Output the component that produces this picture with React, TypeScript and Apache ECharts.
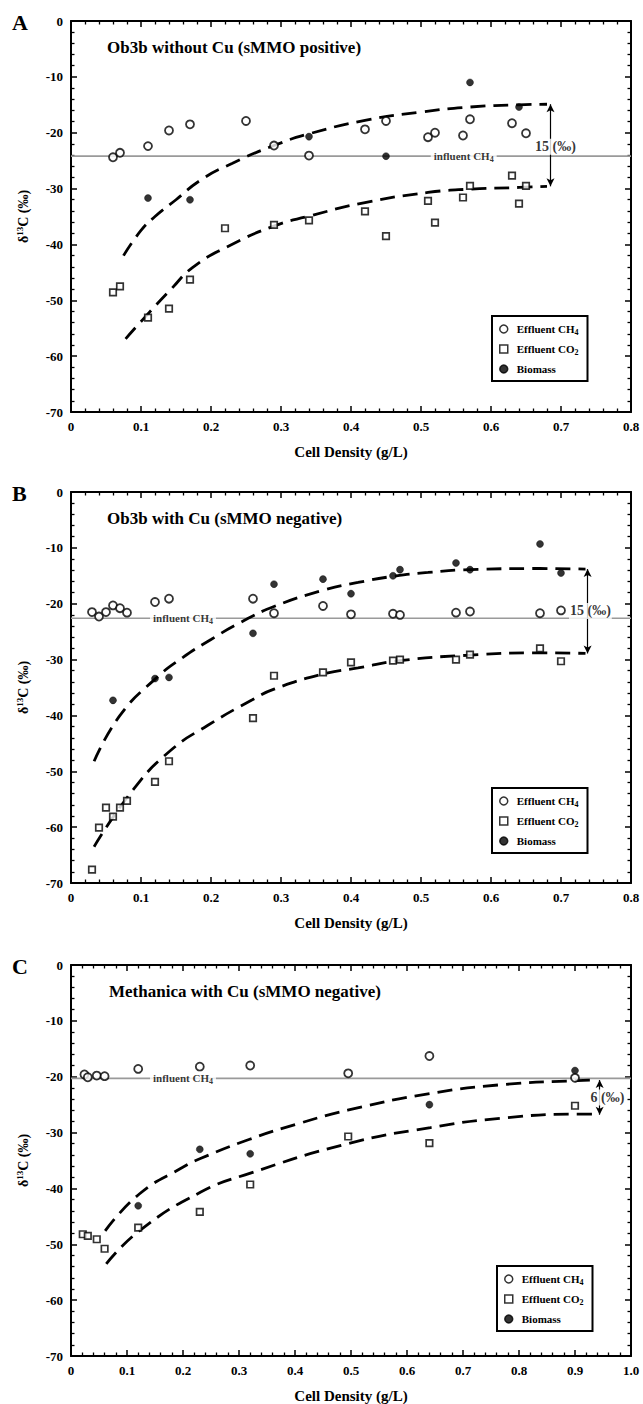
import React, { useEffect, useRef } from "react";
import * as echarts from "echarts";

const FONT = '"Liberation Serif", "Times New Roman", serif';

// ---------- Data ----------
const panelLetters = ["A", "B", "C"];
const panelTitles = [
  "Ob3b without Cu (sMMO positive)",
  "Ob3b with Cu (sMMO negative)",
  "Methanica with Cu (sMMO negative)",
];
const xMaxes = [0.8, 0.8, 1.0];
const seriesNames = ["Effluent CH4", "Effluent CO2", "Biomass"];

// Panel A
const aCH4 = [[0.06, -24.4], [0.07, -23.6], [0.11, -22.4], [0.14, -19.6], [0.17, -18.5], [0.25, -17.9], [0.29, -22.3], [0.34, -24.1], [0.42, -19.4], [0.45, -17.9], [0.51, -20.8], [0.52, -20.0], [0.56, -20.5], [0.57, -17.6], [0.63, -18.3], [0.65, -20.1]];
const aCO2 = [[0.06, -48.6], [0.07, -47.5], [0.11, -53.1], [0.14, -51.5], [0.17, -46.3], [0.22, -37.1], [0.29, -36.5], [0.34, -35.7], [0.42, -34.1], [0.45, -38.5], [0.51, -32.2], [0.52, -36.1], [0.56, -31.6], [0.57, -29.5], [0.63, -27.7], [0.64, -32.7], [0.65, -29.5]];
const aBio = [[0.11, -31.7], [0.17, -32.0], [0.34, -20.7], [0.45, -24.2], [0.57, -11.0], [0.64, -15.4]];
const aFitUp = [[0.075, -42], [0.1, -37.5], [0.12, -35], [0.15, -32], [0.185, -28.5], [0.23, -25.5], [0.29, -22.3], [0.34, -20.2], [0.42, -17.8], [0.5, -16.3], [0.57, -15.4], [0.64, -15.0], [0.68, -14.9]];
const aFitLo = [[0.078, -56.9], [0.108, -52.7], [0.143, -48], [0.174, -44.1], [0.222, -40.5], [0.29, -36.7], [0.341, -34.9], [0.42, -32.5], [0.51, -30.7], [0.57, -30.1], [0.64, -29.8], [0.68, -29.6]];

// Panel B
const bCH4 = [[0.03, -21.5], [0.04, -22.3], [0.05, -21.5], [0.06, -20.3], [0.07, -20.8], [0.08, -21.6], [0.12, -19.7], [0.14, -19.1], [0.26, -19.1], [0.29, -21.7], [0.36, -20.4], [0.4, -21.9], [0.46, -21.8], [0.47, -22.0], [0.55, -21.6], [0.57, -21.4], [0.67, -21.7], [0.7, -21.2]];
const bCO2 = [[0.03, -67.6], [0.04, -60.1], [0.05, -56.5], [0.06, -58.1], [0.07, -56.5], [0.08, -55.3], [0.12, -51.9], [0.14, -48.2], [0.26, -40.5], [0.29, -32.9], [0.36, -32.3], [0.4, -30.5], [0.46, -30.2], [0.47, -30.0], [0.55, -30.0], [0.57, -29.1], [0.67, -28.0], [0.7, -30.3]];
const bBio = [[0.06, -37.3], [0.12, -33.4], [0.14, -33.2], [0.26, -25.3], [0.29, -16.5], [0.36, -15.6], [0.4, -18.2], [0.46, -15.0], [0.47, -13.9], [0.55, -12.7], [0.57, -13.9], [0.67, -9.3], [0.7, -14.5]];
const bFitUp = [[0.033, -48.2], [0.07, -40], [0.12, -33.5], [0.16, -29.6], [0.2, -26.4], [0.24, -23.5], [0.29, -20.5], [0.36, -17.6], [0.41, -16.2], [0.46, -15.1], [0.51, -14.4], [0.57, -13.9], [0.67, -13.7], [0.735, -13.8]];
const bFitLo = [[0.033, -63.5], [0.09, -53.1], [0.143, -46.2], [0.195, -41.8], [0.259, -37.2], [0.29, -35.3], [0.36, -32.6], [0.41, -31.5], [0.47, -30.2], [0.57, -29.2], [0.67, -28.8], [0.735, -28.9]];

// Panel C
const cCH4 = [[0.024, -19.6], [0.03, -20.1], [0.046, -19.8], [0.06, -19.9], [0.12, -18.6], [0.23, -18.2], [0.32, -18.0], [0.495, -19.4], [0.64, -16.3], [0.9, -20.2]];
const cCO2 = [[0.021, -48.2], [0.03, -48.5], [0.046, -49.1], [0.06, -50.8], [0.12, -47.0], [0.23, -44.2], [0.32, -39.3], [0.495, -30.7], [0.64, -31.9], [0.9, -25.2]];
const cBio = [[0.12, -43.1], [0.23, -33.0], [0.32, -33.8], [0.64, -25.0], [0.9, -18.9]];
const cFitUp = [[0.061, -47.6], [0.122, -41], [0.198, -36.3], [0.23, -34.7], [0.319, -31.2], [0.403, -28.5], [0.494, -26], [0.642, -23], [0.772, -21.4], [0.904, -20.7], [0.937, -20.6]];
const cFitLo = [[0.063, -53.5], [0.122, -47.6], [0.231, -40.7], [0.319, -37.3], [0.494, -32.0], [0.642, -29.1], [0.772, -27.4], [0.904, -26.7], [0.934, -26.7]];

// Annotations
const influentValues = [-24.2, -22.6, -20.3];
const influentLabelX = [0.561, 0.16, 0.2];
const arrowX = [0.685, 0.738, 0.944];
const arrowTop = [-14.9, -13.8, -20.6];
const arrowBottom = [-29.6, -28.9, -26.8];
const deltaLabels = ["15 (‰)", "15 (‰)", "6 (‰)"];
const deltaLabelPos = [[0.692, -22.5], [0.742, -21.3], [0.958, -23.7]];

const ch4Sets = [aCH4, bCH4, cCH4];
const co2Sets = [aCO2, bCO2, cCO2];
const bioSets = [aBio, bBio, cBio];
const fitUpSets = [aFitUp, bFitUp, cFitUp];
const fitLoSets = [aFitLo, bFitLo, cFitLo];

// ---------- Layout ----------
const gridTops = [21, 492, 965];
const gridLeft = 71;
const gridWidth = 560;
const gridHeight = 391;
const titleLefts = [107, 107, 109];
const legendLefts = [492, 492, 497];
const legendTopOffsets = [295, 296, 301];

const subRich = {
  s: { fontFamily: FONT, fontWeight: "bold", fontSize: 8, lineHeight: 7, verticalAlign: "bottom", color: "#000" },
};
const legendText: Record<string, string> = {
  "Effluent CH4": "Effluent CH{s|4}",
  "Effluent CO2": "Effluent CO{s|2}",
  Biomass: "Biomass",
};

function buildOption() {
  const axisLine = { show: true, onZero: false, lineStyle: { color: "#000", width: 2 } };
  const axisTick = { show: true, inside: true, length: 6, lineStyle: { color: "#000", width: 1.5 } };
  const minorTick = { show: true, splitNumber: 5, length: 3.5, lineStyle: { color: "#000", width: 1.3 } };
  const labelStyle = { fontFamily: FONT, fontWeight: "bold", fontSize: 13, color: "#000" };

  const xAxis: any[] = [];
  const yAxis: any[] = [];
  const series: any[] = [];
  const title: any[] = [];

  gridTops.forEach((t, i) => {
    const xBase = {
      type: "value", gridIndex: i, min: 0, max: xMaxes[i], interval: 0.1,
      axisLine, axisTick, minorTick, splitLine: { show: false }, minorSplitLine: { show: false },
    };
    xAxis.push({
      ...xBase, position: "bottom",
      axisLabel: { ...labelStyle, margin: 8, formatter: (v: number) => (v === 0 ? "0" : v.toFixed(1)) },
      name: "Cell Density (g/L)", nameLocation: "middle", nameGap: 32,
      nameTextStyle: { fontFamily: FONT, fontWeight: "bold", fontSize: 15, color: "#000" },
    });
    xAxis.push({ ...xBase, position: "top", axisLabel: { show: false } });

    const yBase = {
      type: "value", gridIndex: i, min: -70, max: 0, interval: 10,
      axisLine, axisTick, minorTick, splitLine: { show: false }, minorSplitLine: { show: false },
    };
    yAxis.push({
      ...yBase, position: "left",
      axisLabel: { ...labelStyle, margin: 8 },
      name: "δ{sup|13}C (‰)", nameLocation: "middle", nameGap: 39, nameRotate: 90,
      nameTextStyle: {
        fontFamily: FONT, fontWeight: "bold", fontSize: 14, lineHeight: 17, color: "#000",
        rich: { sup: { fontFamily: FONT, fontWeight: "bold", fontSize: 9, lineHeight: 9, verticalAlign: "top", color: "#000" } },
      },
    });
    yAxis.push({ ...yBase, position: "right", axisLabel: { show: false } });

    title.push({
      text: panelLetters[i], left: 12, top: t - 10, padding: 0,
      textStyle: { fontFamily: FONT, fontWeight: "bold", fontSize: 22, color: "#000" },
    });
    title.push({
      text: panelTitles[i], left: titleLefts[i], top: t + 18, padding: 0,
      textStyle: { fontFamily: FONT, fontWeight: "bold", fontSize: 17, color: "#000" },
    });

    const xi = 2 * i;
    const yi = 2 * i;

    // influent CH4 reference line + double arrow
    series.push({
      type: "line", xAxisIndex: xi, yAxisIndex: yi, silent: true, z: 2,
      data: [[0, influentValues[i]], [xMaxes[i], influentValues[i]]],
      symbol: "none", lineStyle: { color: "#9a9a9a", width: 1.6 },
      markLine: {
        silent: true, symbol: ["arrow", "arrow"], symbolSize: [6, 8], animation: false,
        lineStyle: { color: "#000", width: 1.2, type: "solid" },
        label: { show: false },
        data: [[{ coord: [arrowX[i], arrowTop[i]] }, { coord: [arrowX[i], arrowBottom[i]] }]],
      },
    });

    // fitted curves
    [fitUpSets[i], fitLoSets[i]].forEach((d) => {
      series.push({
        type: "line", xAxisIndex: xi, yAxisIndex: yi, silent: true, z: 3,
        data: d, smooth: true, symbol: "none",
        lineStyle: { color: "#000", width: 2.8, type: [15, 8], cap: "butt" },
      });
    });

    // data points
    series.push({
      name: seriesNames[2], type: "scatter", xAxisIndex: xi, yAxisIndex: yi, z: 4,
      data: bioSets[i], symbol: "circle", symbolSize: 7,
      itemStyle: { color: "#000", borderColor: "#000", borderWidth: 0.5 },
    });
    series.push({
      name: seriesNames[1], type: "scatter", xAxisIndex: xi, yAxisIndex: yi, z: 5,
      data: co2Sets[i], symbol: "rect", symbolSize: 6.5,
      itemStyle: { color: "#fff", borderColor: "#000", borderWidth: 1.7 },
    });
    series.push({
      name: seriesNames[0], type: "scatter", xAxisIndex: xi, yAxisIndex: yi, z: 6,
      data: ch4Sets[i], symbol: "circle", symbolSize: 8,
      itemStyle: { color: "#fff", borderColor: "#000", borderWidth: 1.8 },
    });

    // text labels placed in data coordinates
    series.push({
      type: "scatter", xAxisIndex: xi, yAxisIndex: yi, z: 8, silent: true,
      data: [[influentLabelX[i], influentValues[i]]], symbolSize: 1,
      itemStyle: { color: "rgba(0,0,0,0)" },
      label: {
        show: true, position: "inside", formatter: "influent CH{s|4}",
        fontFamily: FONT, fontWeight: "bold", fontSize: 11, lineHeight: 14, color: "#000",
        backgroundColor: "#fff", padding: [0, 3], rich: subRich,
      },
    });
    series.push({
      type: "scatter", xAxisIndex: xi, yAxisIndex: yi, z: 8, silent: true,
      data: [deltaLabelPos[i]], symbolSize: 1,
      itemStyle: { color: "rgba(0,0,0,0)" },
      label: {
        show: true, position: "inside", formatter: deltaLabels[i],
        fontFamily: FONT, fontWeight: "bold", fontSize: 14, color: "#000",
        backgroundColor: "#fff", padding: [1, 1],
      },
    });
  });

  const legend = gridTops.map((t, i) => ({
    orient: "vertical", left: legendLefts[i], top: t + legendTopOffsets[i],
    data: seriesNames, selectedMode: false,
    borderColor: "#000", borderWidth: 2, borderRadius: 0, backgroundColor: "#fff",
    padding: [6, 9, 5, 7], itemGap: 6, itemWidth: 8, itemHeight: 8,
    itemStyle: { borderWidth: 1.5 },
    formatter: (n: string) => legendText[n] || n,
    textStyle: {
      fontFamily: FONT, fontWeight: "bold", fontSize: 11, lineHeight: 14, color: "#000",
      padding: [0, 0, 0, 4], rich: subRich,
    },
  }));

  return {
    animation: false,
    backgroundColor: "#fff",
    title,
    legend,
    grid: gridTops.map((t) => ({ left: gridLeft, top: t, width: gridWidth, height: gridHeight, containLabel: false })),
    xAxis,
    yAxis,
    series,
  };
}

export default function App() {
  const ref = useRef<HTMLDivElement>(null);
  useEffect(() => {
    if (!ref.current) return;
    const chart = echarts.init(ref.current, undefined, { renderer: "svg" });
    chart.setOption(buildOption() as any);
    return () => chart.dispose();
  }, []);
  return (
    <div
      ref={ref}
      style={{ position: "absolute", left: 0, top: 0, width: 643, height: 1404, background: "#fff" }}
    />
  );
}
